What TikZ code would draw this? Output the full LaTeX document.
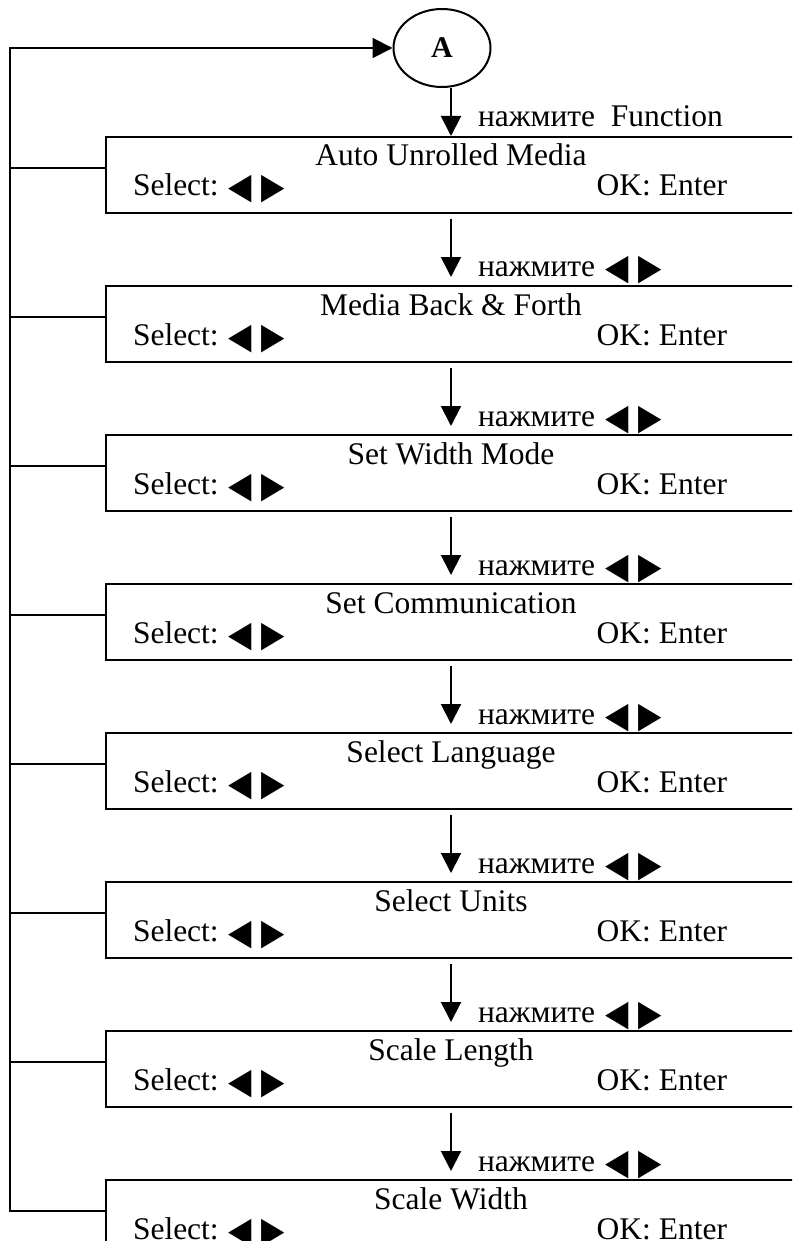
\documentclass[tikz,border=0pt]{standalone}
\usepackage{fontspec}
\setmainfont{Liberation Serif}
\newfontfamily\symf{DejaVu Sans}
\usetikzlibrary{positioning,shapes.geometric,arrows.meta}

\newcommand{\lrkeys}{\raisebox{-1.5pt}{\scalebox{0.8}[0.95]{\symf\fontsize{19}{20}\selectfont ◀\kern6pt▶}}}

\begin{document}
\begin{tikzpicture}[x=0.5pt,y=-0.5pt,line width=1pt,
  font=\fontsize{15.75}{18}\selectfont,
  menubox/.style={draw, rectangle, minimum width=345pt, minimum height=38pt, inner sep=0pt},
  txt/.style={inner sep=0pt},
  arr/.style={-{Triangle[length=10pt,width=10pt]}},
  node distance=35.5pt]
  \useasboundingbox (0,0) rectangle (792,1241);
  \clip (0,0) rectangle (792,1241);
  % entry point and return rail
  \node[draw, ellipse, minimum width=48.5pt, minimum height=39pt, inner sep=0pt,
    font=\fontsize{15}{16}\selectfont\bfseries] (A) at (442,48) {A};
  \coordinate (rail) at (10,48);
  % menu boxes
  \node[menubox] (box1) at (451,175) {};
  \foreach \i [count=\j from 2] in {1,...,7}
    \node[menubox, below=of box\i] (box\j) {};
  \foreach \t [count=\i] in {Auto Unrolled Media, Media Back \& Forth, Set Width Mode,
      Set Communication, Select Language, Select Units, Scale Length, Scale Width} {
    \node[txt, anchor=base] (title\i) at ([yshift=-15pt]box\i.north) {\t};
    \node[txt, anchor=base west] (sel\i) at ([xshift=13.5pt,yshift=-30pt]box\i.north west) {Select:\hspace{5pt}\lrkeys};
    \node[txt, anchor=base east] (ok\i) at ([xshift=-34.5pt,yshift=-30pt]box\i.north east) {OK: Enter};
  }
  % arrows down the menu
  \draw[arr] (A.south -| box1.north) -- (box1.north);
  \node[txt, anchor=base west] (push1) at ([xshift=13pt,yshift=4.5pt]box1.north) {нажмите\ \ Function};
  \foreach \i [count=\j from 2] in {1,...,7} {
    \draw[arr, shorten <=2.5pt, shorten >=4pt] (box\i.south) -- (box\j.north);
    \node[txt, anchor=base west] (push\j) at ([xshift=13pt,yshift=4pt]box\j.north) {нажмите\hspace{5pt}\lrkeys};
  }
  % return to A
  \foreach \i in {1,...,8}
    \coordinate (tap\i) at ([yshift=3.5pt]box\i.west);
  \foreach \i in {1,...,7}
    \draw (tap\i) -- (rail |- tap\i);
  \draw[arr] (tap8) -| (rail) -- (A);
\end{tikzpicture}
\end{document}
